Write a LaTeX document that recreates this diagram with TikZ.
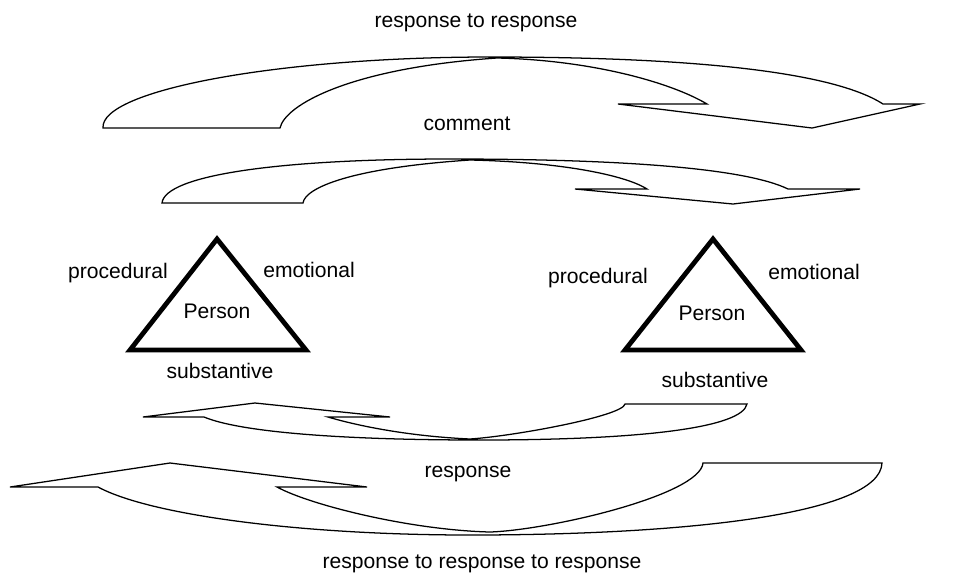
\documentclass[tikz,border=0pt]{standalone}
\usepackage{fontspec}
\setmainfont{Liberation Sans}
\tikzset{
  lab/.style={font=\fontsize{15}{18}\selectfont,anchor=base,inner sep=0pt},
  band/.style={draw=black,line width=0.9pt,line join=miter},
  tri/.style={draw=black,line width=3.4pt,line join=miter},
}

\begin{document}
\begin{tikzpicture}[x=0.025cm,y=-0.025cm]
    \useasboundingbox (0,0) rectangle (967,575);
    % person triangles
    \coordinate (topA) at (217,239); \coordinate (leftA) at (130,350); \coordinate (rightA) at (306,350);
    \coordinate (topB) at (713,239); \coordinate (leftB) at (625,350); \coordinate (rightB) at (801,350);
    \draw[tri] (topA) -- (leftA) -- (rightA) -- cycle;
    \draw[tri] (topB) -- (leftB) -- (rightB) -- cycle;
    \node[lab] (procA) at (118,278) {procedural};
    \node[lab] (emoA) at (309,277) {emotional};
    \node[lab] (perA) at (217,318) {Person};
    \node[lab] (subA) at (220,378) {substantive};
    \node[lab] (procB) at (598,283) {procedural};
    \node[lab] (emoB) at (814,279) {emotional};
    \node[lab] (perB) at (712,320) {Person};
    \node[lab] (subB) at (715,387) {substantive};
    % block arrows over the top
    \draw[band] (103,128) -- (280,128)
      .. controls (285,105) and (350,68) .. (497,58)
      .. controls (590,60) and (670,82) .. (707,104)
      -- (618,104) -- (812,128) -- (920,104) -- (883,104)
      .. controls (830,70) and (680,57) .. (490,57)
      .. controls (280,57) and (100,90) .. (103,128) -- cycle;
    \draw[band] (162,203) -- (303,203)
      .. controls (305,188) and (350,168) .. (470,160)
      .. controls (560,162) and (625,175) .. (647,189)
      -- (575,189) -- (733,204) -- (860,189) -- (788,189)
      .. controls (745,168) and (620,159) .. (450,159)
      .. controls (280,159) and (165,175) .. (162,203) -- cycle;
    % block arrows underneath
    \draw[band] (204,417) -- (143,417) -- (255,403) -- (390,417) -- (328,417)
      .. controls (355,425) and (405,436) .. (470,439)
      .. controls (515,436) and (623,416) .. (625,404)
      -- (747,404)
      .. controls (742,428) and (640,440) .. (480,440)
      .. controls (340,440) and (240,432) .. (204,417) -- cycle;
    \draw[band] (98,487) -- (10,487) -- (170,463) -- (367,487) -- (277,487)
      .. controls (310,505) and (410,530) .. (490,532)
      .. controls (550,530) and (700,495) .. (703,463)
      -- (882,463)
      .. controls (880,515) and (680,535) .. (470,535)
      .. controls (300,535) and (150,515) .. (98,487) -- cycle;
    \node[lab] (rr) at (476,27) {response to response};
    \node[lab] (cm) at (467,130) {comment};
    \node[lab] (rs) at (468,477) {response};
    \node[lab] (rrr) at (482,568) {response to response to response};
  \end{tikzpicture}
\end{document}
